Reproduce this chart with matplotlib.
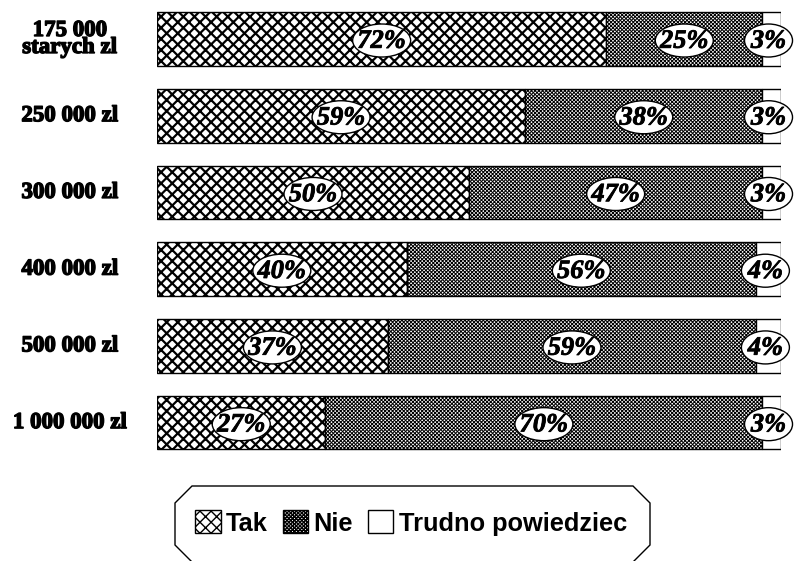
import matplotlib
matplotlib.use('Agg')
import matplotlib.pyplot as plt
from matplotlib.patches import Ellipse, Polygon, Patch
import matplotlib.patheffects as pe

# dane
kategorie = ['175 000\nstarych zl', '250 000 zl', '300 000 zl',
             '400 000 zl', '500 000 zl', '1 000 000 zl']
tak = [72, 59, 50, 40, 37, 27]
nie = [25, 38, 47, 56, 59, 70]
trudno = [3, 3, 3, 4, 4, 3]
legenda = ['Tak', 'Nie', 'Trudno powiedziec']

plt.rcParams['hatch.color'] = 'black'
HATCH_TAK = 'xxx'
HATCH_NIE = 'xxxxxxxxx'

W, H = 795, 561
fig = plt.figure(figsize=(W / 100, H / 100), dpi=100)
# os: 0..100% na pikselach 157..781, wiersze od gory
ax = fig.add_axes([157 / W, 100 / H, 624 / W, 461 / H])
ax.set_xlim(0, 100)
ax.set_ylim(5.5, -0.508)
ax.axis('off')

y = list(range(len(kategorie)))
lewo_nie = tak
lewo_trudno = [a + b for a, b in zip(tak, nie)]

with plt.rc_context({'hatch.linewidth': 1.6}):
    ax.barh(y, tak, height=0.70, color='white', edgecolor='black', hatch=HATCH_TAK, linewidth=1)
    h_tak = Patch(facecolor='white', edgecolor='black', hatch=HATCH_TAK)
with plt.rc_context({'hatch.linewidth': 0.7}):
    ax.barh(y, nie, left=lewo_nie, height=0.70, color='white', edgecolor='black', hatch=HATCH_NIE, linewidth=1)
    h_nie = Patch(facecolor='white', edgecolor='black', hatch=HATCH_NIE)
ax.barh(y, trudno, left=lewo_trudno, height=0.70, color='white', edgecolor='black', linewidth=1)
h_tru = Patch(facecolor='white', edgecolor='black')

px_x = 100 / 624  # jednostki danych na piksel
px_y = 1 / 76.7

gruby = [pe.withStroke(linewidth=1.0, foreground='black')]
pol = [pe.withStroke(linewidth=0.6, foreground='black')]


def etykieta(x, yy, v):
    txt = f'{v}%'
    w = 58 if len(txt) > 2 else 48
    ax.add_patch(Ellipse((x, yy + 0.02), w * px_x, 33 * px_y, facecolor='white',
                         edgecolor='black', linewidth=1, zorder=3, clip_on=False))
    ax.text(x, yy + 0.03, txt, ha='center', va='center', fontsize=19,
            family='Liberation Serif', weight='bold', style='italic', zorder=4,
            path_effects=pol)


for i in y:
    etykieta(tak[i] / 2, i, tak[i])
    etykieta(lewo_nie[i] + nie[i] / 2, i, nie[i])
    etykieta(lewo_trudno[i] + trudno[i] / 2 - 0.5, i, trudno[i])
    ax.text(-14, i, kategorie[i], ha='center', va='center', fontsize=16.5,
            family='Liberation Serif', weight='bold', linespacing=0.75,
            path_effects=gruby, clip_on=False)

# ramka legendy (osmiokat)
pts = [(192, 486), (633, 486), (650, 503), (650, 545), (633, 562),
       (192, 562), (175, 545), (175, 503)]
fig.patches.append(Polygon([(px / W, 1 - py / H) for px, py in pts], closed=True,
                           facecolor='none', edgecolor='black', linewidth=1,
                           transform=fig.transFigure, figure=fig))

fig.legend([h_tak, h_nie, h_tru], legenda, loc='center', bbox_to_anchor=(411 / W, 1 - 523 / H),
           ncol=3, frameon=False, handlelength=1.0, handleheight=1.0,
           handletextpad=0.2, columnspacing=0.6,
           prop={'family': 'Liberation Sans', 'weight': 'bold', 'size': 18.3})

fig.savefig('out.png', dpi=100)
